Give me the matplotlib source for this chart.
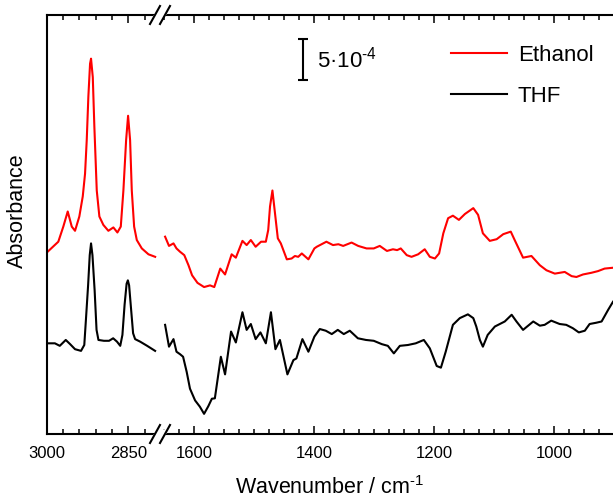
import matplotlib.pyplot as plt
import numpy as np
from matplotlib.ticker import MultipleLocator, FixedLocator
from matplotlib.lines import Line2D
from matplotlib.patches import Polygon

plt.rcParams['font.family'] = ['Liberation Sans', 'DejaVu Sans']
plt.rcParams['mathtext.default'] = 'regular'

# absorbance in units of 1e-4, spectra stacked with an offset
# C-H stretch region
wn_eth_hi = [3000, 2978.7, 2969.5, 2961.4, 2954, 2948, 2940.1, 2933.8, 2929.6, 2926.5,
             2923.5, 2920.4, 2918.6, 2915.4, 2912.5, 2908.1, 2903.3, 2896, 2886.8, 2877.6,
             2870.2, 2864, 2859.2, 2854.2, 2850.6, 2846.9, 2843.8, 2839.5, 2834.6, 2825.4,
             2813.2, 2800.9]
abs_eth_hi = [21.6, 22.9, 24.7, 26.5, 24.7, 24.2, 25.9, 28.3, 31.0, 35.0,
              40.2, 44.1, 44.7, 42.5, 36.6, 29.0, 25.9, 24.9, 24.2, 24.6,
              24.0, 24.7, 29.0, 35.0, 37.9, 35.0, 29.0, 24.7, 23.1, 22.1,
              21.4, 21.1]

wn_thf_hi = [3000, 2985, 2976, 2965, 2957, 2948, 2937, 2931, 2928, 2924,
             2921, 2918.6, 2916, 2912, 2908.5, 2905, 2895, 2885.5, 2878, 2871,
             2865, 2861, 2857, 2853.3, 2851, 2848.7, 2845, 2841.4, 2837.7, 2828.5,
             2815.6, 2801]
abs_thf_hi = [10.8, 10.8, 10.5, 11.2, 10.7, 10.1, 9.9, 10.6, 13.6, 17.7,
              21.3, 22.7, 21.3, 17.1, 12.4, 11.2, 11.1, 11.1, 11.4, 11.0,
              10.5, 11.8, 15.4, 17.9, 18.3, 17.7, 14.8, 12.0, 11.3, 11.0,
              10.5, 9.9]

# fingerprint region
wn_eth_lo = [1649, 1642.5, 1635, 1630, 1624, 1617, 1610, 1604, 1595, 1584,
             1574, 1567, 1557, 1549, 1538, 1531, 1520, 1513, 1506, 1498,
             1489, 1481, 1477, 1474, 1470, 1467, 1461, 1456, 1446, 1438,
             1432.5, 1427, 1421, 1410, 1400, 1396, 1380, 1369, 1360, 1352,
             1338, 1327, 1313, 1301, 1291, 1279, 1269, 1262, 1256, 1246,
             1238, 1227, 1216, 1207.5, 1199, 1192, 1185, 1177, 1169, 1159,
             1149, 1135, 1127, 1119, 1107.5, 1096, 1085, 1072.5, 1066, 1052,
             1038, 1024, 1013, 999, 982.5, 971, 963, 952, 938, 927,
             916, 902]
abs_eth_lo = [23.5, 22.4, 22.7, 22.1, 21.7, 21.3, 20.1, 18.9, 18.0, 17.5,
              17.7, 17.5, 19.7, 19.0, 21.4, 21.0, 23.0, 22.5, 23.1, 22.3,
              22.9, 22.9, 24.3, 27.1, 29.0, 27.1, 23.3, 22.7, 20.8, 20.9,
              21.2, 21.1, 21.5, 20.8, 22.1, 22.3, 22.9, 22.5, 22.6, 22.4,
              22.8, 22.4, 22.1, 22.1, 22.4, 21.8, 22.0, 21.9, 22.1, 21.3,
              21.1, 21.4, 22.0, 21.1, 20.9, 21.5, 23.9, 25.7, 26.0, 25.5,
              26.2, 26.9, 26.1, 23.9, 23.0, 23.2, 23.8, 24.1, 23.1, 21.0,
              21.2, 20.1, 19.5, 19.1, 19.3, 18.8, 18.7, 19.0, 19.2, 19.4,
              19.7, 19.8]

wn_thf_lo = [1649, 1642.5, 1635, 1630, 1624, 1619, 1613, 1607.5, 1599, 1591,
             1584, 1577, 1571, 1566, 1556, 1549, 1539, 1531, 1520, 1513,
             1506, 1498, 1490, 1481, 1472.5, 1465, 1457.5, 1445, 1435, 1430,
             1420, 1410, 1400, 1391, 1381, 1371, 1361, 1351, 1341, 1327.5,
             1314, 1301, 1287.5, 1277.5, 1267.5, 1257.5, 1244, 1231, 1217.5, 1207.5,
             1196, 1189, 1181, 1169, 1157.5, 1144, 1135, 1130, 1124, 1119,
             1111, 1099, 1082.5, 1071, 1063, 1052, 1035, 1024, 1016, 1005,
             991, 980, 969, 959, 949, 941, 930, 921, 910, 902]
abs_thf_lo = [13.0, 10.4, 11.3, 9.8, 9.5, 9.2, 7.4, 5.4, 4.0, 3.25,
              2.4, 3.3, 4.2, 4.25, 9.2, 7.1, 12.2, 10.9, 14.5, 12.4,
              13.1, 11.3, 12.1, 10.8, 14.5, 10.1, 11.2, 7.1, 8.8, 9.0,
              11.3, 9.8, 11.6, 12.5, 12.3, 11.9, 12.4, 11.9, 12.3, 11.4,
              11.2, 11.1, 10.7, 10.5, 9.6, 10.5, 10.6, 10.8, 11.2, 10.2,
              8.1, 7.9, 9.8, 13.0, 13.8, 14.25, 13.8, 12.8, 11.2, 10.4,
              11.8, 12.8, 13.4, 14.2, 13.4, 12.4, 13.4, 12.9, 13.0, 13.5,
              13.1, 13.0, 12.6, 12.1, 12.3, 13.1, 13.25, 13.4, 14.8, 15.75]

scale_len = 5  # 5e-4

W, H = 613, 499
fig = plt.figure(figsize=(W / 100, H / 100), dpi=100)
ax1 = fig.add_axes([46.7 / W, 65 / H, (160 - 46.7) / W, 419 / H])
ax2 = fig.add_axes([160 / W, 65 / H, 453 / W, 419 / H])

ax1.plot(wn_eth_hi, abs_eth_hi, color='#ff0000', lw=1.5)
ax1.plot(wn_thf_hi, abs_thf_hi, color='black', lw=1.5)
ax2.plot(wn_eth_lo, abs_eth_lo, color='#ff0000', lw=1.5, label='Ethanol')
ax2.plot(wn_thf_lo, abs_thf_lo, color='black', lw=1.5, label='THF')

ax1.set_xlim(3000, 2792)
ax2.set_xlim(1657.5, 902)
for ax in (ax1, ax2):
    ax.set_ylim(0, 49.9)
    ax.set_yticks([])
    ax.tick_params(axis='x', which='both', direction='in', top=True, width=1.1,
                   labelsize=12, pad=9)
    ax.tick_params(axis='x', which='major', length=6)
    ax.tick_params(axis='x', which='minor', length=3.5)
    for s in ax.spines.values():
        s.set_linewidth(1.5)
ax1.spines['right'].set_visible(False)
ax2.spines['left'].set_visible(False)
ax2.spines['right'].set_visible(False)

ax1.xaxis.set_major_locator(FixedLocator([3000, 2850]))
ax1.xaxis.set_minor_locator(FixedLocator([2970, 2940, 2910, 2880, 2820]))
ax2.xaxis.set_major_locator(MultipleLocator(200))
ax2.xaxis.set_minor_locator(MultipleLocator(25))

fig.text(17 / W, 1 - 211 / H, 'Absorbance', fontsize=15.5, rotation=90,
         ha='center', va='center')
fig.text(330 / W, 0.5 / H, 'Wavenumber / cm$^{\u20101}$', fontsize=15.5,
         ha='center', va='bottom')

# scale bar
ax2.errorbar([1418.7], [42.1 + scale_len / 2], yerr=scale_len / 2, fmt='none',
             ecolor='black', elinewidth=1.5, capsize=3.6, capthick=1.5)
ax2.text(1395, 42.1 + scale_len / 2, '5·10$^{\u20104}$', fontsize=16,
         ha='left', va='center')

ax2.legend(loc='upper left', bbox_to_anchor=(451 / W, 1 - 45 / H),
           bbox_transform=fig.transFigure, frameon=False, fontsize=16,
           handlelength=2.5, handletextpad=0.5, labelspacing=0.88,
           borderpad=0, borderaxespad=0)

# axis break marks
xb = 160
for yb in (15, 434):
    gap = Polygon([((xb - 9) / W, 1 - (yb + 4) / H), ((xb + 1) / W, 1 - (yb + 4) / H),
                   ((xb + 9) / W, 1 - (yb - 4) / H), ((xb - 1) / W, 1 - (yb - 4) / H)],
                  closed=True, transform=fig.transFigure, color='white', zorder=10,
                  clip_on=False)
    fig.add_artist(gap)
    for dx in (-5, 5):
        fig.add_artist(Line2D([(xb + dx - 5) / W, (xb + dx + 5) / W],
                              [1 - (yb + 9) / H, 1 - (yb - 9) / H],
                              transform=fig.transFigure, color='black', lw=1.5,
                              zorder=11))

fig.savefig('out.png', dpi=100)
